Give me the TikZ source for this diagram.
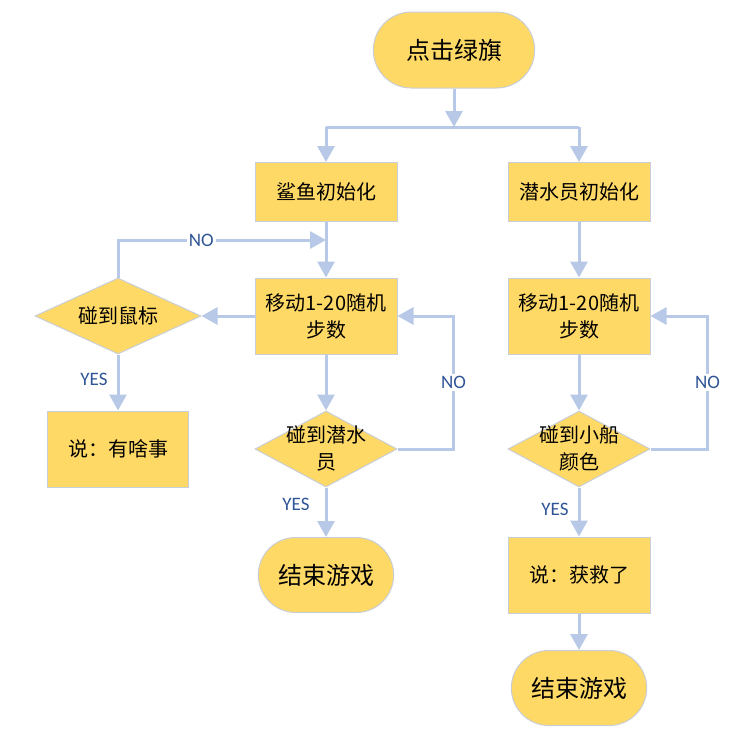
\documentclass[tikz,border=0pt]{standalone}
\usepackage{fontspec}
\setmainfont{Noto Sans CJK SC}
\newfontfamily\yesno{Carlito}
\usepackage{tikz}
\usetikzlibrary{shapes,arrows.meta,positioning,calc}
\definecolor{boxfill}{RGB}{255,217,102}
\definecolor{boxline}{RGB}{200,206,214}
\definecolor{flow}{RGB}{183,201,230}
\definecolor{lbl}{RGB}{47,85,151}

\begin{document}
\begin{tikzpicture}[x=1pt,y=-1pt]
\tikzstyle{term}=[draw=boxline,fill=boxfill,line width=1pt,rounded rectangle,minimum width=142pt,minimum height=75pt,font=\fontsize{24}{28}\selectfont]
\tikzstyle{proc}=[draw=boxline,fill=boxfill,line width=1pt,rectangle,minimum width=142pt,minimum height=76pt,align=center,font=\fontsize{20}{27}\selectfont]
\tikzstyle{cond}=[draw=boxline,fill=boxfill,line width=1pt,diamond,inner sep=0pt,minimum width=142pt,minimum height=76pt]
\tikzstyle{condtxt}=[align=center,inner sep=0pt,font=\fontsize{20}{27}\selectfont]
\tikzstyle{flowline}=[draw=flow,line width=3pt,-{Triangle[width=17pt,length=16pt]}]
\tikzstyle{yn}=[fill=white,text=lbl,inner sep=2pt,font=\yesno\fontsize{19}{21}\selectfont]

\useasboundingbox (0,0) rectangle (748,740);

\node [term,minimum width=168pt,minimum height=76pt] (start) at (454,50) {点击绿旗};
\coordinate (split) at (454,127);

% shark
\node [proc,minimum height=59pt] (shark) at (326,192) {鲨鱼初始化};
\node [proc] (move1) at (326,316) {移动1-20随机\\步数};
\node [cond,minimum width=166pt] (mouse) at (118,316) {};
\node [condtxt] (mousetxt) at (mouse) {碰到鼠标};
\node [proc,minimum width=141pt] (say1) at (118,449) {说：有啥事};
\node [cond] (diver) at (326,449) {};
\node [condtxt] (divertxt) at (326,448) {碰到潜水\\员};
\node [term] (end1) at (326,575) {结束游戏};

% diver
\node [proc,minimum height=59pt] (init2) at (579,192) {潜水员初始化};
\node [proc] (move2) at (579,316) {移动1-20随机\\步数};
\node [cond] (boat) at (579,449) {};
\node [condtxt] (boattxt) at (579,448) {碰到小船\\颜色};
\node [proc] (say2) at (579,575) {说：获救了};
\node [term] (end2) at (579,688) {结束游戏};

\draw [flowline] (start.south) -- (split);
\draw [draw=flow,line width=3pt] (split -| shark) -- (split -| init2);
\draw [flowline] (split -| shark) -- (shark.north);
\draw [flowline] (split -| init2) -- (init2.north);

\draw [flowline] (shark.south) -- (move1.north);
\draw [flowline] (move1.west) -- (mouse.east);
\coordinate (back1) at (326,240);
\draw [flowline] (mouse.north) |- node [yn,pos=0.70] (no1) {NO} (back1);
\draw [flowline] (mouse.south) -- node [yn,pos=0.45,xshift=-24pt] (yes1) {YES} (say1.north);
\draw [flowline] (move1.south) -- (diver.north);
\draw [flowline] (diver.east) -- ++(56,0) |- node [yn,pos=0.25] (no2) {NO} (move1.east);
\draw [flowline] (diver.south) -- node [yn,pos=0.35,xshift=-30pt,fill=none] (yes2) {YES} (end1.north);

\draw [flowline] (init2.south) -- (move2.north);
\draw [flowline] (move2.south) -- (boat.north);
\draw [flowline] (boat.east) -- ++(57,0) |- node [yn,pos=0.25] (no3) {NO} (move2.east);
\draw [flowline] (boat.south) -- node [yn,pos=0.45,xshift=-24pt,fill=none] (yes3) {YES} (say2.north);
\draw [flowline] (say2.south) -- (end2.north);

\end{tikzpicture}
\end{document}
